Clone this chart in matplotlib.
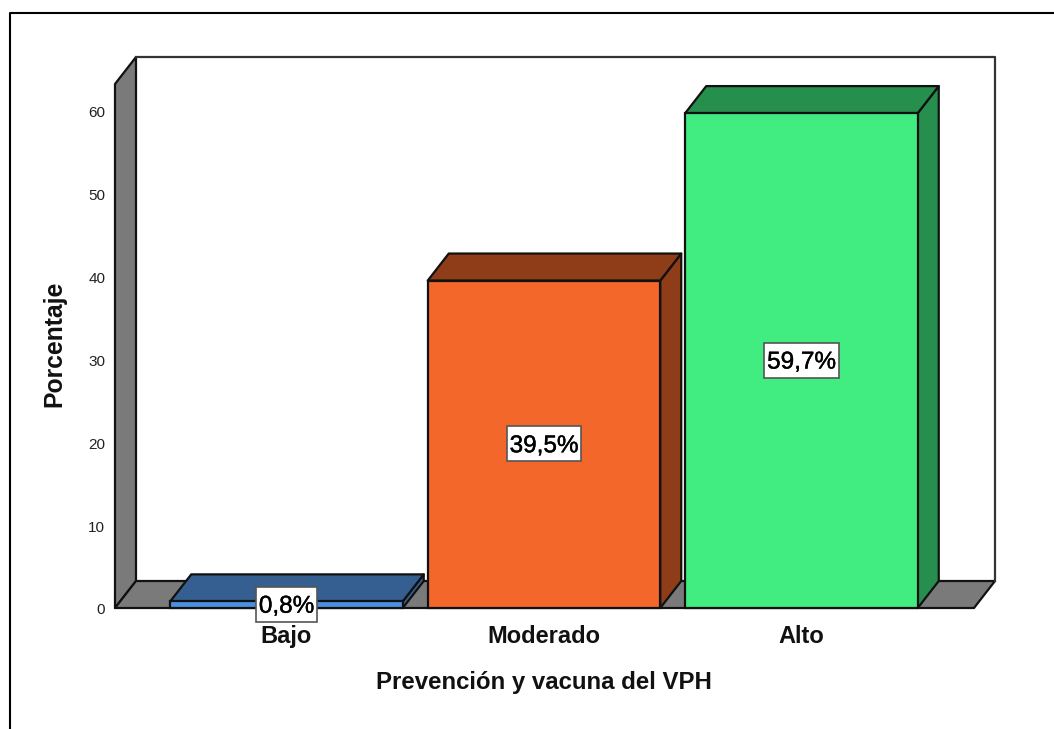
import matplotlib
matplotlib.use("Agg")
from matplotlib import pyplot as plt
from matplotlib import patheffects as pe
from matplotlib.lines import Line2D
from matplotlib.path import Path
from matplotlib.transforms import ScaledTranslation

categorias = ["Bajo", "Moderado", "Alto"]
valores = [0.8, 39.5, 59.7]
etiquetas = ["0,8%", "39,5%", "59,7%"]
ticks_y = [0, 10, 20, 30, 40, 50, 60]

cor_frente = ["#4A90E2", "#F4672A", "#41EC80"]
cor_topo = ["#365F91", "#8F3C18", "#268F4E"]
cor_lado = ["#365F91", "#8F3C18", "#268F4E"]
cor_parede = "#7A7A7A"

plt.rcParams["font.family"] = ["Liberation Sans", "DejaVu Sans"]

W, H = 1054, 729
fig = plt.figure(figsize=(W / 100, H / 100), dpi=100, facecolor="white")

# area do grafico em pixels: 115..995 e 57..608
ax = fig.add_axes([115 / W, (H - 608) / H, 880 / W, 551 / H])
px_x = 257.5
px_y = 8.29
x_min = -171.5 / px_x
x_max = x_min + 880 / px_x
y_max = 551 / px_y
ax.set_xlim(x_min, x_max)
ax.set_ylim(0, y_max)

# profundidade do efeito 3D
dx = 21 / px_x
dy = 27 / px_y
x_fim = x_max - dx
borda = dict(edgecolor="#111111", linewidth=1.6, joinstyle="round")

# parede lateral e chao
ax.fill([x_min, x_min + dx, x_min + dx, x_min], [0, dy, y_max, y_max - dy],
        facecolor=cor_parede, zorder=1, clip_on=False, **borda)
ax.fill([x_min, x_fim, x_max, x_min + dx], [0, 0, dy, dy],
        facecolor=cor_parede, zorder=1, clip_on=False, **borda)
# fundo branco
ax.plot([x_min + dx, x_max, x_max], [y_max, y_max, dy], color="#333333", lw=1.6, zorder=1,
        clip_on=False)

largura = 232.5 / px_x
xs = range(len(categorias))
for i in xs:
    esq = i - largura / 2
    dir = i + largura / 2
    v = valores[i]
    # lado e topo
    ax.fill([dir, dir + dx, dir + dx, dir], [0, dy, v + dy, v],
            facecolor=cor_lado[i], zorder=2, clip_on=False, **borda)
    ax.fill([esq, dir, dir + dx, esq + dx], [v, v, v + dy, v + dy],
            facecolor=cor_topo[i], zorder=2, clip_on=False, **borda)

ax.bar(list(xs), valores, width=largura, color=cor_frente, edgecolor="#111111",
       linewidth=1.6, zorder=3, clip_on=False)


# caixa com mais folga em cima que embaixo, como no original
def caixa(x0, y0, w, h, mutation_size):
    esq, dir = x0 - 3, x0 + w + 3
    baixo, cima = y0 - 4, y0 + h + 9
    return Path([(esq, baixo), (dir, baixo), (dir, cima), (esq, cima), (esq, baixo)], closed=True)


# desce 2 px as etiquetas e as marcas do eixo y 1 px
desce2 = ScaledTranslation(0, -2 / 100, fig.dpi_scale_trans)
desce1 = ScaledTranslation(0, -1 / 100, fig.dpi_scale_trans)
for i in xs:
    t = ax.text(i, valores[i] / 2, etiquetas[i], ha="center", va="center", fontsize=17.5,
                color="black", zorder=6, transform=ax.transData + desce2,
                bbox=dict(facecolor="white", edgecolor="#555555", linewidth=1.2,
                          boxstyle=caixa))
    t.set_path_effects([pe.withStroke(linewidth=0.3, foreground="black")])

for lado in ax.spines.values():
    lado.set_visible(False)
ax.patch.set_visible(False)

ax.set_xticks(list(xs))
ax.set_xticklabels(categorias, fontsize=17, fontweight="bold", color="#111111")
ax.set_yticks(ticks_y)
ax.set_yticklabels([str(t) for t in ticks_y], fontsize=11, color="#222222")
ax.tick_params(axis="x", length=0, pad=12)
ax.tick_params(axis="y", length=0, pad=7)
for rotulo in ax.get_yticklabels():
    rotulo.set_transform(rotulo.get_transform() + desce1)

fig.text(544 / W, 1 - 683 / H, "Prevención y vacuna del VPH", ha="center", va="center",
         fontsize=17.3, fontweight="bold", color="#111111")
fig.text(54 / W, 1 - 344 / H, "Porcentaje", ha="center", va="center", rotation=90,
         fontsize=17.8, fontweight="bold", color="#111111")

# moldura externa
fig.add_artist(Line2D([9.5 / W, 9.5 / W, 1], [0, 1 - 13 / H, 1 - 13 / H],
                      color="black", lw=1.5, transform=fig.transFigure))

fig.savefig("out.png", dpi=100, facecolor="white")
